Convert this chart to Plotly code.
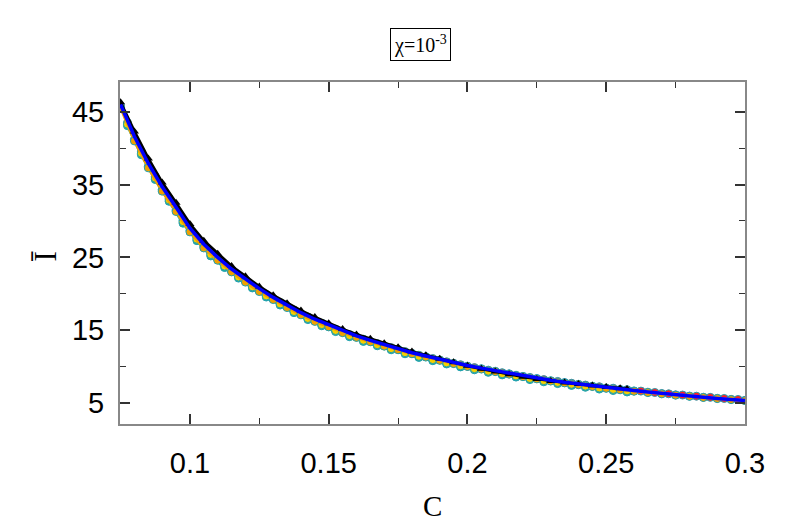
import plotly.graph_objects as go

c_fine = [0.075, 0.08, 0.085, 0.09, 0.095, 0.1, 0.105, 0.11, 0.115, 0.12,
          0.125, 0.13, 0.135, 0.14, 0.145, 0.15, 0.155, 0.16, 0.165, 0.17,
          0.175, 0.18, 0.185, 0.19, 0.195, 0.2, 0.205, 0.21, 0.215, 0.22,
          0.225, 0.23, 0.235, 0.24, 0.245, 0.25, 0.255, 0.26, 0.265, 0.27,
          0.275, 0.28, 0.285, 0.29, 0.295, 0.3]
i_blue = [46.0, 41.6, 37.9, 34.7, 31.9, 29.0, 26.8, 25.0, 23.4, 22.0,
          20.7, 19.5, 18.4, 17.4, 16.5, 15.7, 14.9, 14.2, 13.6, 13.0,
          12.5, 11.9, 11.45, 11.0, 10.55, 10.15, 9.78, 9.42, 9.08, 8.7,
          8.4, 8.1, 7.85, 7.6, 7.35, 7.1, 6.9, 6.7, 6.5, 6.3,
          6.12, 5.95, 5.78, 5.62, 5.47, 5.33]
i_orange = [45.6, 41.0, 37.3, 34.1, 31.3, 28.5, 26.3, 24.6, 23.0, 21.6,
            20.3, 19.2, 18.1, 17.1, 16.2, 15.45, 14.65, 14.0, 13.4, 12.8,
            12.3, 11.75, 11.3, 10.85, 10.4, 10.0, 9.65, 9.3, 8.95, 8.6,
            8.3, 8.0, 7.75, 7.5, 7.25, 7.0, 6.8, 6.6, 6.42, 6.24,
            6.06, 5.9, 5.74, 5.59, 5.45, 5.31]
i_magenta = [45.8, 41.2, 37.5, 34.3, 31.5, 28.7, 26.5, 24.7, 23.1, 21.75,
             20.4, 19.3, 18.2, 17.2, 16.3, 15.5, 14.75, 14.05, 13.45, 12.85,
             12.35, 11.8, 11.35, 10.9, 10.45, 10.05, 9.7, 9.35, 9.0, 8.65,
             8.35, 8.05, 7.8, 7.55, 7.3, 7.05, 6.85, 6.65, 6.47, 6.29,
             6.11, 5.94, 5.78, 5.63, 5.49, 5.35]

c_mid = [0.0775, 0.0825, 0.0875, 0.0925, 0.0975, 0.1025, 0.1075, 0.1125, 0.1175, 0.1225,
         0.1275, 0.1325, 0.1375, 0.1425, 0.1475, 0.1525, 0.1575, 0.1625, 0.1675, 0.1725,
         0.1775, 0.1825, 0.1875, 0.1925, 0.1975, 0.2025, 0.2075, 0.2125, 0.2175, 0.2225,
         0.2275, 0.2325, 0.2375, 0.2425, 0.2475, 0.2525, 0.2575]
i_yellow = [43.3, 39.3, 35.9, 32.9, 29.9, 27.5, 25.4, 23.8, 22.3, 20.95,
            19.7, 18.6, 17.55, 16.6, 15.75, 14.95, 14.25, 13.6, 13.0, 12.45,
            11.9, 11.4, 10.95, 10.5, 10.1, 9.7, 9.35, 9.0, 8.7, 8.35,
            8.05, 7.8, 7.55, 7.3, 7.05, 6.85, 6.65]
i_teal = [43.1, 39.1, 35.7, 32.7, 29.7, 27.3, 25.2, 23.6, 22.15, 20.8,
          19.55, 18.45, 17.4, 16.45, 15.6, 14.8, 14.1, 13.45, 12.85, 12.3,
          11.75, 11.25, 10.8, 10.35, 9.95, 9.55, 9.2, 8.85, 8.55, 8.2,
          7.9, 7.65, 7.4, 7.15, 6.9, 6.7, 6.5]

c_red = [0.0775, 0.0825, 0.0875, 0.0925, 0.0975, 0.1025, 0.1075, 0.1125, 0.1175, 0.1225,
         0.1275, 0.1325, 0.1375, 0.1425, 0.1475, 0.1525, 0.1575, 0.1625, 0.1675, 0.1725,
         0.1775, 0.1825, 0.1875, 0.1925, 0.1975, 0.2025, 0.2075, 0.2125, 0.2175, 0.2225,
         0.2275, 0.2325, 0.2375, 0.2425, 0.2475, 0.2525, 0.2575, 0.2625, 0.2675, 0.2725,
         0.2775, 0.2825, 0.2875, 0.2925, 0.2975]
i_red = [43.5, 39.5, 36.1, 33.1, 30.1, 27.7, 25.6, 24.0, 22.5, 21.15,
         19.9, 18.8, 17.75, 16.8, 15.95, 15.15, 14.4, 13.75, 13.15, 12.6,
         12.05, 11.55, 11.1, 10.65, 10.25, 9.85, 9.5, 9.15, 8.8, 8.5,
         8.2, 7.95, 7.7, 7.45, 7.22, 7.02, 6.82, 6.62, 6.43, 6.25,
         6.08, 5.92, 5.76, 5.61, 5.47]

c_black = [0.075, 0.08, 0.085, 0.09, 0.095, 0.1, 0.105, 0.11, 0.115, 0.12,
           0.125, 0.13, 0.135, 0.14, 0.145, 0.15, 0.155, 0.16, 0.165, 0.17,
           0.175, 0.18, 0.185, 0.19, 0.195, 0.2, 0.205, 0.21, 0.215, 0.22,
           0.225, 0.23, 0.235, 0.24, 0.245, 0.25, 0.255, 0.2575]
i_black = [46.3, 42.3, 38.6, 35.3, 32.5, 29.6, 27.3, 25.5, 23.8, 22.4,
           21.0, 19.8, 18.7, 17.7, 16.8, 15.95, 15.15, 14.4, 13.8, 13.2,
           12.65, 12.05, 11.55, 11.05, 10.6, 10.1, 9.7, 9.3, 8.95, 8.6,
           8.3, 8.0, 7.8, 7.6, 7.4, 7.2, 7.0, 6.9]

x_ticks = [0.1, 0.15, 0.2, 0.25, 0.3]
y_ticks = [5, 15, 25, 35, 45]

fig = go.Figure()

def circ(x, y, color):
    fig.add_trace(go.Scatter(
        x=x, y=y, mode="lines+markers",
        line=dict(color=color, width=3),
        marker=dict(symbol="circle", size=8, color=color,
                    line=dict(color="#20a0b0", width=1)),
        showlegend=False, hoverinfo="skip"))

circ(c_red, i_red, "#ff2020")
circ(c_fine, i_magenta, "#d040d0")
circ(c_mid, i_teal, "#20b0a0")
circ(c_mid, i_yellow, "#f5d000")
circ(c_fine, i_orange, "#f0a000")

fig.add_trace(go.Scatter(
    x=c_black, y=i_black, mode="lines+markers",
    line=dict(color="black", width=3),
    marker=dict(symbol="triangle-up", size=8, color="black"),
    showlegend=False, hoverinfo="skip"))

fig.add_trace(go.Scatter(
    x=c_fine, y=i_blue, mode="lines",
    line=dict(color="#0000ff", width=3.5),
    showlegend=False, hoverinfo="skip"))

axis_common = dict(
    showline=True, linecolor="#888888", linewidth=2, mirror="allticks",
    ticks="inside", ticklen=10, tickwidth=1.5, tickcolor="#333333",
    showgrid=False, zeroline=False,
    tickfont=dict(family="Liberation Sans", size=29, color="black"),
)

fig.update_xaxes(
    range=[0.0748, 0.3], tickmode="array", tickvals=x_ticks,
    ticktext=[str(v) for v in x_ticks],
    minor=dict(ticks="inside", ticklen=6, tickwidth=1, tickcolor="#333333",
               tickvals=[0.125, 0.175, 0.225, 0.275]),
    ticklabelstandoff=12,
    **axis_common)
fig.update_yaxes(
    range=[2.1, 49.1], tickmode="array", tickvals=y_ticks,
    ticktext=[str(v) for v in y_ticks],
    minor=dict(ticks="inside", ticklen=6, tickwidth=1, tickcolor="#333333",
               tickvals=[10, 20, 30, 40]),
    ticklabelstandoff=8,
    **axis_common)

fig.add_annotation(
    xref="paper", yref="paper", x=0.48, y=1.11, xanchor="center", yanchor="middle",
    text="χ=10<sup>-3</sup>", showarrow=False,
    font=dict(family="Liberation Serif", size=20, color="black"),
    bordercolor="black", borderwidth=1, borderpad=3, bgcolor="white")
fig.add_annotation(
    xref="paper", yref="paper", x=0.5, y=-0.24, xanchor="center", yanchor="middle",
    text="C", showarrow=False,
    font=dict(family="Liberation Serif", size=29, color="black"))
fig.add_annotation(
    xref="paper", yref="paper", x=-0.12, y=0.49, xanchor="center", yanchor="middle",
    text="Ī", showarrow=False, textangle=-90,
    font=dict(family="Liberation Serif", size=31, color="black"))

fig.update_layout(
    width=797, height=532,
    margin=dict(l=120, r=52, t=82, b=108),
    paper_bgcolor="white", plot_bgcolor="white",
)

fig.write_html("out.html", config={"displayModeBar": False},
               post_script="document.body.style.margin='0';")
